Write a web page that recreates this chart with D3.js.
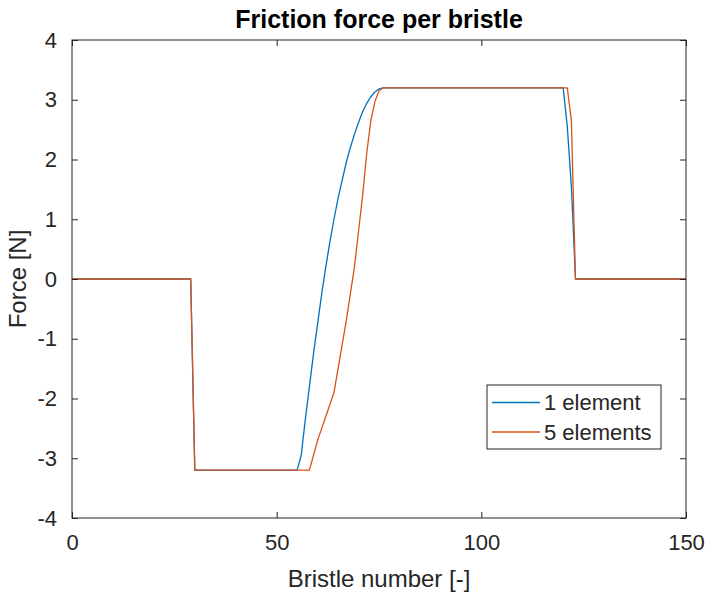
<!DOCTYPE html>
<html>
<head>
<meta charset="utf-8">
<script src="https://cdn.jsdelivr.net/npm/d3@7"></script>
<style>
  html, body { margin: 0; padding: 0; background: #fff; }
  svg { display: block; font-family: "Liberation Sans", Arial, Helvetica, sans-serif; }
</style>
</head>
<body>
<svg id="chart" width="709" height="599"></svg>
<script>
// Friction force per bristle along the brush, for two discretisations.
const titleText = "Friction force per bristle";
const xLabel = "Bristle number [-]";
const yLabel = "Force [N]";

const xTicks = [0, 50, 100, 150];
const yTicks = [-4, -3, -2, -1, 0, 1, 2, 3, 4];

const seriesNames = ["1 element", "5 elements"];
const seriesColors = ["#0072BD", "#D95319"];

// 1 element: bristle index and force
const oneElemX = [0, 29, 30, 55, 56, 57, 58, 59, 60, 61, 62, 63, 64, 65, 66, 67, 68, 69, 70, 71, 72, 73, 74, 75, 76, 120, 121, 122, 123, 150];
const oneElemY = [0, 0, -3.2, -3.2, -2.95, -2.35, -1.8, -1.25, -0.75, -0.25, 0.2, 0.62, 1.0, 1.35, 1.65, 1.95, 2.2, 2.42, 2.62, 2.8, 2.94, 3.05, 3.13, 3.18, 3.2, 3.2, 2.55, 1.55, 0, 0];

// 5 elements: bristle index and force
const fiveElemX = [0, 29, 30, 58, 59, 60, 61, 62, 63, 64, 65, 66, 67, 68, 69, 70, 71, 72, 73, 74, 75, 76, 121, 122, 123, 150];
const fiveElemY = [0, 0, -3.2, -3.2, -2.95, -2.7, -2.5, -2.3, -2.1, -1.9, -1.5, -1.1, -0.7, -0.25, 0.2, 0.8, 1.4, 2.1, 2.65, 2.97, 3.15, 3.2, 3.2, 2.65, 0, 0];

const W = 709, H = 599;
const margin = { left: 72, top: 40, right: 23, bottom: 81 };
const pw = W - margin.left - margin.right;
const ph = H - margin.top - margin.bottom;

const svg = d3.select("#chart");
const axisColor = "#262626";

const x = d3.scaleLinear().domain([0, 150]).range([0, pw]);
const y = d3.scaleLinear().domain([-4, 4]).range([ph, 0]);

const g = svg.append("g").attr("transform", `translate(${margin.left},${margin.top})`);

// Lines
const line = d3.line().x(d => x(d[0])).y(d => y(d[1]));
const series = [
  d3.zip(oneElemX, oneElemY),
  d3.zip(fiveElemX, fiveElemY)
];
series.forEach((pts, i) => {
  g.append("path")
    .datum(pts)
    .attr("fill", "none")
    .attr("stroke", seriesColors[i])
    .attr("stroke-width", 1.3)
    .attr("stroke-linejoin", "round")
    .attr("d", line);
});

// Axes: ticks pointing inward, mirrored on the opposite sides
const tickLen = 6;
const fontSize = 22;
const plainNum = d => String(d);
function styleAxis(sel) {
  sel.select(".domain").remove();
  sel.selectAll(".tick line").attr("stroke", axisColor).attr("stroke-width", 1);
  sel.selectAll(".tick text").attr("fill", axisColor).attr("font-size", fontSize).attr("font-family", null);
}
g.append("g").attr("transform", `translate(0,${ph})`)
  .call(d3.axisBottom(x).tickValues(xTicks).tickSizeInner(-tickLen).tickPadding(16).tickFormat(plainNum))
  .call(styleAxis);
g.append("g")
  .call(d3.axisTop(x).tickValues(xTicks).tickSizeInner(-tickLen).tickFormat(""))
  .call(styleAxis);
g.append("g")
  .call(d3.axisLeft(y).tickValues(yTicks).tickSizeInner(-tickLen).tickPadding(15).tickFormat(plainNum))
  .call(styleAxis);
g.append("g").attr("transform", `translate(${pw},0)`)
  .call(d3.axisRight(y).tickValues(yTicks).tickSizeInner(-tickLen).tickFormat(""))
  .call(styleAxis);

// Box
g.append("rect")
  .attr("width", pw).attr("height", ph)
  .attr("fill", "none").attr("stroke", axisColor).attr("stroke-width", 1);

// Title and labels
svg.append("text")
  .attr("x", margin.left + pw / 2).attr("y", 28)
  .attr("text-anchor", "middle")
  .attr("font-weight", "bold").attr("font-size", 25)
  .attr("fill", "#000")
  .text(titleText);

svg.append("text")
  .attr("x", margin.left + pw / 2).attr("y", 587)
  .attr("text-anchor", "middle")
  .attr("font-size", 24).attr("fill", axisColor)
  .text(xLabel);

svg.append("text")
  .attr("transform", `translate(26,${margin.top + ph / 2}) rotate(-90)`)
  .attr("text-anchor", "middle")
  .attr("font-size", 24).attr("fill", axisColor)
  .text(yLabel);

// Legend
const lg = svg.append("g").attr("transform", "translate(487,385)");
lg.append("rect").attr("width", 174).attr("height", 64)
  .attr("fill", "#fff").attr("stroke", axisColor).attr("stroke-width", 1);
seriesNames.forEach((name, i) => {
  const yy = 17.5 + i * 29.5;
  lg.append("line").attr("x1", 5).attr("x2", 53).attr("y1", yy).attr("y2", yy)
    .attr("stroke", seriesColors[i]).attr("stroke-width", 1.3);
  lg.append("text").attr("x", 57).attr("y", yy).attr("dy", "0.35em")
    .attr("font-size", 22).attr("fill", axisColor).text(name);
});
</script>
</body>
</html>
